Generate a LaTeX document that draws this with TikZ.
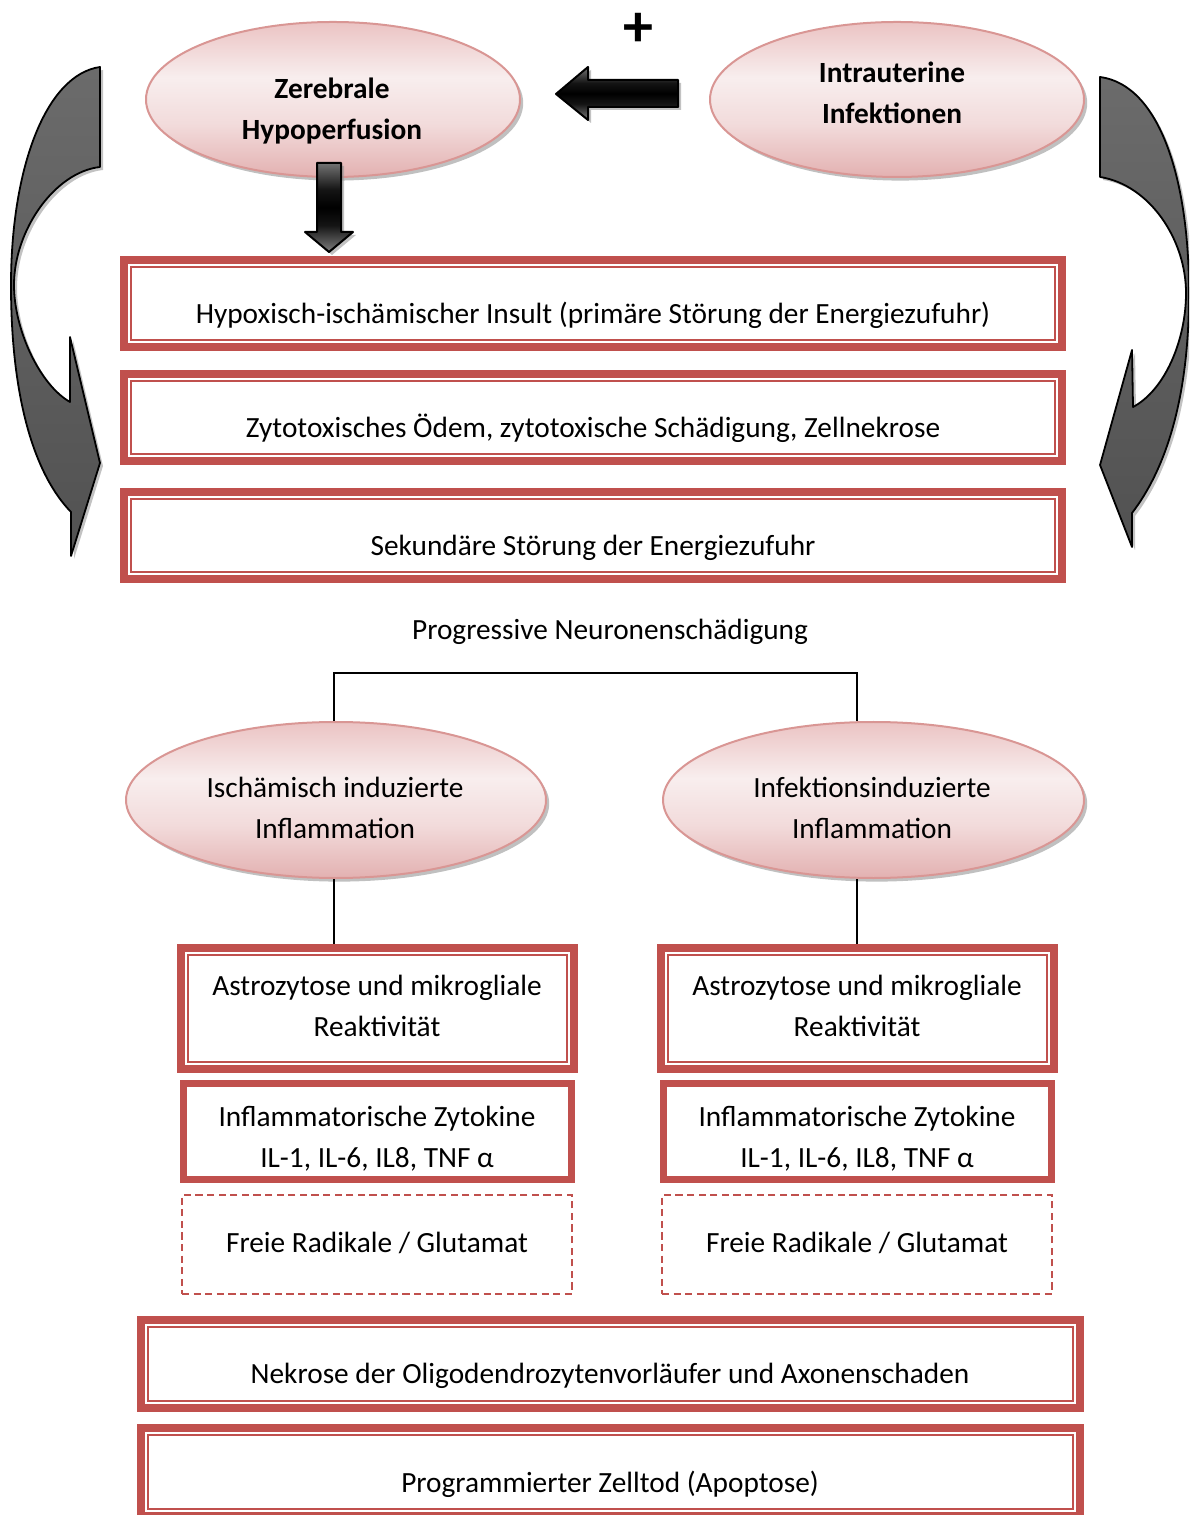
\documentclass[tikz,border=0pt]{standalone}
\usepackage{fontspec}
\setmainfont{Carlito}
\usetikzlibrary{shapes.geometric,shadows,calc}
\definecolor{boxred}{HTML}{C0504D}
\definecolor{ellborder}{HTML}{D99694}
\definecolor{pinkT}{HTML}{EBC3C3}
\definecolor{pinkM}{HTML}{F2DBDB}
\definecolor{pinkL}{HTML}{F8EEEE}
\definecolor{pinkB}{HTML}{E3B1B1}
\pgfdeclareverticalshading{ellsh}{100bp}{color(0bp)=(pinkB); color(25bp)=(pinkB); color(42bp)=(pinkM); color(57bp)=(pinkL); color(75bp)=(pinkT); color(100bp)=(pinkT)}
\pgfdeclareverticalshading{blksh}{100bp}{color(0bp)=(black!50); color(25bp)=(black!50); color(40bp)=(black!92); color(50bp)=(black); color(60bp)=(black!92); color(75bp)=(black!55); color(100bp)=(black!55)}
\newcommand\innerframe[1]{\draw[innerline] ($(#1.north west)+(2.65pt,-2.65pt)$) rectangle ($(#1.south east)+(-2.65pt,2.65pt)$);}
\begin{document}
\begin{tikzpicture}[x=0.25pt,y=-0.25pt,
  txt/.style={font=\fontsize{7.33}{10.25}\selectfont, align=center, inner sep=0pt},
  boldtxt/.style={font=\fontsize{7.33}{10.25}\selectfont\bfseries, align=center, inner sep=0pt},
  ell/.style={ellipse, draw=ellborder, line width=0.5pt, inner sep=0pt,
    shade, shading=ellsh,
    drop shadow={shadow xshift=0.8pt, shadow yshift=-0.9pt, fill=black!45, opacity=0.55}},
  dbox/.style={draw=boxred, line width=2pt, fill=white, inner sep=0pt},
  sbox/.style={draw=boxred, line width=1.75pt, fill=white, inner sep=0pt},
  dashbox/.style={draw=boxred, line width=0.45pt, dash pattern=on 1.8pt off 1.1pt, inner sep=0pt},
  innerline/.style={draw=boxred, line width=0.5pt},
  conn/.style={draw=black, line width=0.4pt},
  blockedge/.style={draw=black, line width=0.5pt, line join=round},
  curvshade/.style={top color=black!58, middle color=black, bottom color=black!68},
  curvedge/.style={draw=black, line width=0.45pt, line join=round},
  shadowfill/.style={fill=black!40, opacity=0.6}
]
\clip (0,0) rectangle (1189,1515);

% ---------- curved arrows ----------
\def\curvleft{(100,67) -- (100,167) .. controls (55,172) and (14,230) .. (14,285) .. controls (14,330) and (40,385) .. (70,402) -- (70,337) -- (100,463) -- (71,556) -- (71,512) .. controls (35,475) and (11,400) .. (11,285) .. controls (11,170) and (45,75) .. (100,67) -- cycle}
\def\curvright{(1100,77) -- (1100,177) .. controls (1150,185) and (1186,240) .. (1186,293) .. controls (1186,340) and (1165,390) .. (1133,407) -- (1132,350) -- (1100,465) -- (1132,547) -- (1132,513) .. controls (1165,470) and (1189,400) .. (1189,293) .. controls (1189,180) and (1160,85) .. (1100,77) -- cycle}
\begin{scope}[shift={(3,3)}]
  \fill[shadowfill] \curvleft;
  \fill[shadowfill] \curvright;
\end{scope}
\shade[curvshade] \curvleft;
\draw[curvedge] \curvleft;
\shade[curvshade] \curvright;
\draw[curvedge] \curvright;

% ---------- top ellipses ----------
\node[ell, minimum width=93.5pt, minimum height=38.75pt] (zer) at (333,99.5) {};
\node[boldtxt] (zerT) at (332,111) {Zerebrale\\Hypoperfusion};
\node[ell, minimum width=93.5pt, minimum height=38.75pt] (intra) at (897,99.5) {};
\node[boldtxt] (intraT) at (892,93) {Intrauterine\\Infektionen};

\node[font=\fontsize{15}{15}\selectfont\bfseries, inner sep=0pt] (plus) at (638,30) {+};

% ---------- block arrows ----------
\def\leftarr{(678,80) -- (678,107) -- (588,107) -- (588,120) -- (556,94) -- (588,67) -- (588,80) -- cycle}
\def\downarr{(317,163) -- (341,163) -- (341,232) -- (353,232) -- (329,252) -- (305,232) -- (317,232) -- cycle}
\begin{scope}[shift={(3,3)}]
  \fill[shadowfill] \leftarr;
  \fill[shadowfill] \downarr;
\end{scope}
\shade[shading=blksh] \leftarr;
\draw[blockedge] \leftarr;
\shade[shading=blksh] \downarr;
\draw[blockedge] \downarr;

% ---------- upper boxes ----------
\node[dbox, minimum width=234.5pt, minimum height=21.75pt] (b1) at (593,303.5) {};
\node[dbox, minimum width=234.5pt, minimum height=21.75pt] (b2) at (593,417.5) {};
\node[dbox, minimum width=234.5pt, minimum height=21.75pt] (b3) at (593,535.5) {};
\innerframe{b1}
\innerframe{b2}
\innerframe{b3}
\node[txt] (b1T) at (593,315) {Hypoxisch-ischämischer Insult (primäre Störung der Energiezufuhr)};
\node[txt] (b2T) at (593,428) {Zytotoxisches Ödem, zytotoxische Schädigung, Zellnekrose};
\node[txt] (b3T) at (593,548) {Sekundäre Störung der Energiezufuhr};

\node[txt] (prog) at (610,632) {Progressive Neuronenschädigung};

% ---------- inflammation ellipses ----------
\node[ell, minimum width=105pt, minimum height=39pt] (isch) at (336,800) {};
\node[txt] (ischT) at (335,808) {Ischämisch induzierte\\Inflammation};
\node[ell, minimum width=105.25pt, minimum height=39pt] (infz) at (873.5,800) {};
\node[txt] (infzT) at (872,808) {Infektionsinduzierte\\Inflammation};

% ---------- lower columns ----------
\node[dbox, minimum width=98.25pt, minimum height=30.25pt] (astL) at (377.5,1008.5) {};
\node[dbox, minimum width=98.25pt, minimum height=30.25pt] (astR) at (857.5,1008.5) {};
\innerframe{astL}
\innerframe{astR}
\node[txt] (astLT) at (377,1006) {Astrozytose und mikrogliale\\Reaktivität};
\node[txt] (astRT) at (857,1006) {Astrozytose und mikrogliale\\Reaktivität};

\node[sbox, minimum width=97pt, minimum height=24pt] (zytL) at (377.5,1131.5) {};
\node[sbox, minimum width=97pt, minimum height=24pt] (zytR) at (857.5,1131.5) {};
\node[txt] (zytLT) at (377,1139) {Inflammatorische Zytokine\\IL-1, IL-6, IL8, TNF α};
\node[txt] (zytRT) at (857,1139) {Inflammatorische Zytokine\\IL-1, IL-6, IL8, TNF α};

\node[dashbox, minimum width=97.5pt, minimum height=24.75pt] (radL) at (377,1244.5) {};
\node[dashbox, minimum width=97.5pt, minimum height=24.75pt] (radR) at (857,1244.5) {};
\node[txt] (radLT) at (377,1243) {Freie Radikale / Glutamat};
\node[txt] (radRT) at (857,1243) {Freie Radikale / Glutamat};

% ---------- bottom boxes ----------
\node[dbox, minimum width=234.75pt, minimum height=22pt] (nek) at (610.5,1364) {};
\node[dbox, minimum width=234.75pt, minimum height=22pt] (apo) at (610.5,1472) {};
\innerframe{nek}
\innerframe{apo}
\node[txt] (nekT) at (610,1376) {Nekrose der Oligodendrozytenvorläufer und Axonenschaden};
\node[txt] (apoT) at (610,1484) {Programmierter Zelltod (Apoptose)};

% ---------- connectors ----------
\draw[conn] ([xshift=-0.5pt]isch.north) -- ++(0,-48) -| ([xshift=-4.1pt]infz.north);
\draw[conn] ([xshift=-0.5pt]isch.south) -- ([xshift=-0.5pt]isch.south |- astL.north);
\draw[conn] ([xshift=-4.1pt]infz.south) -- ([xshift=-4.1pt]infz.south |- astR.north);
\end{tikzpicture}
\end{document}
